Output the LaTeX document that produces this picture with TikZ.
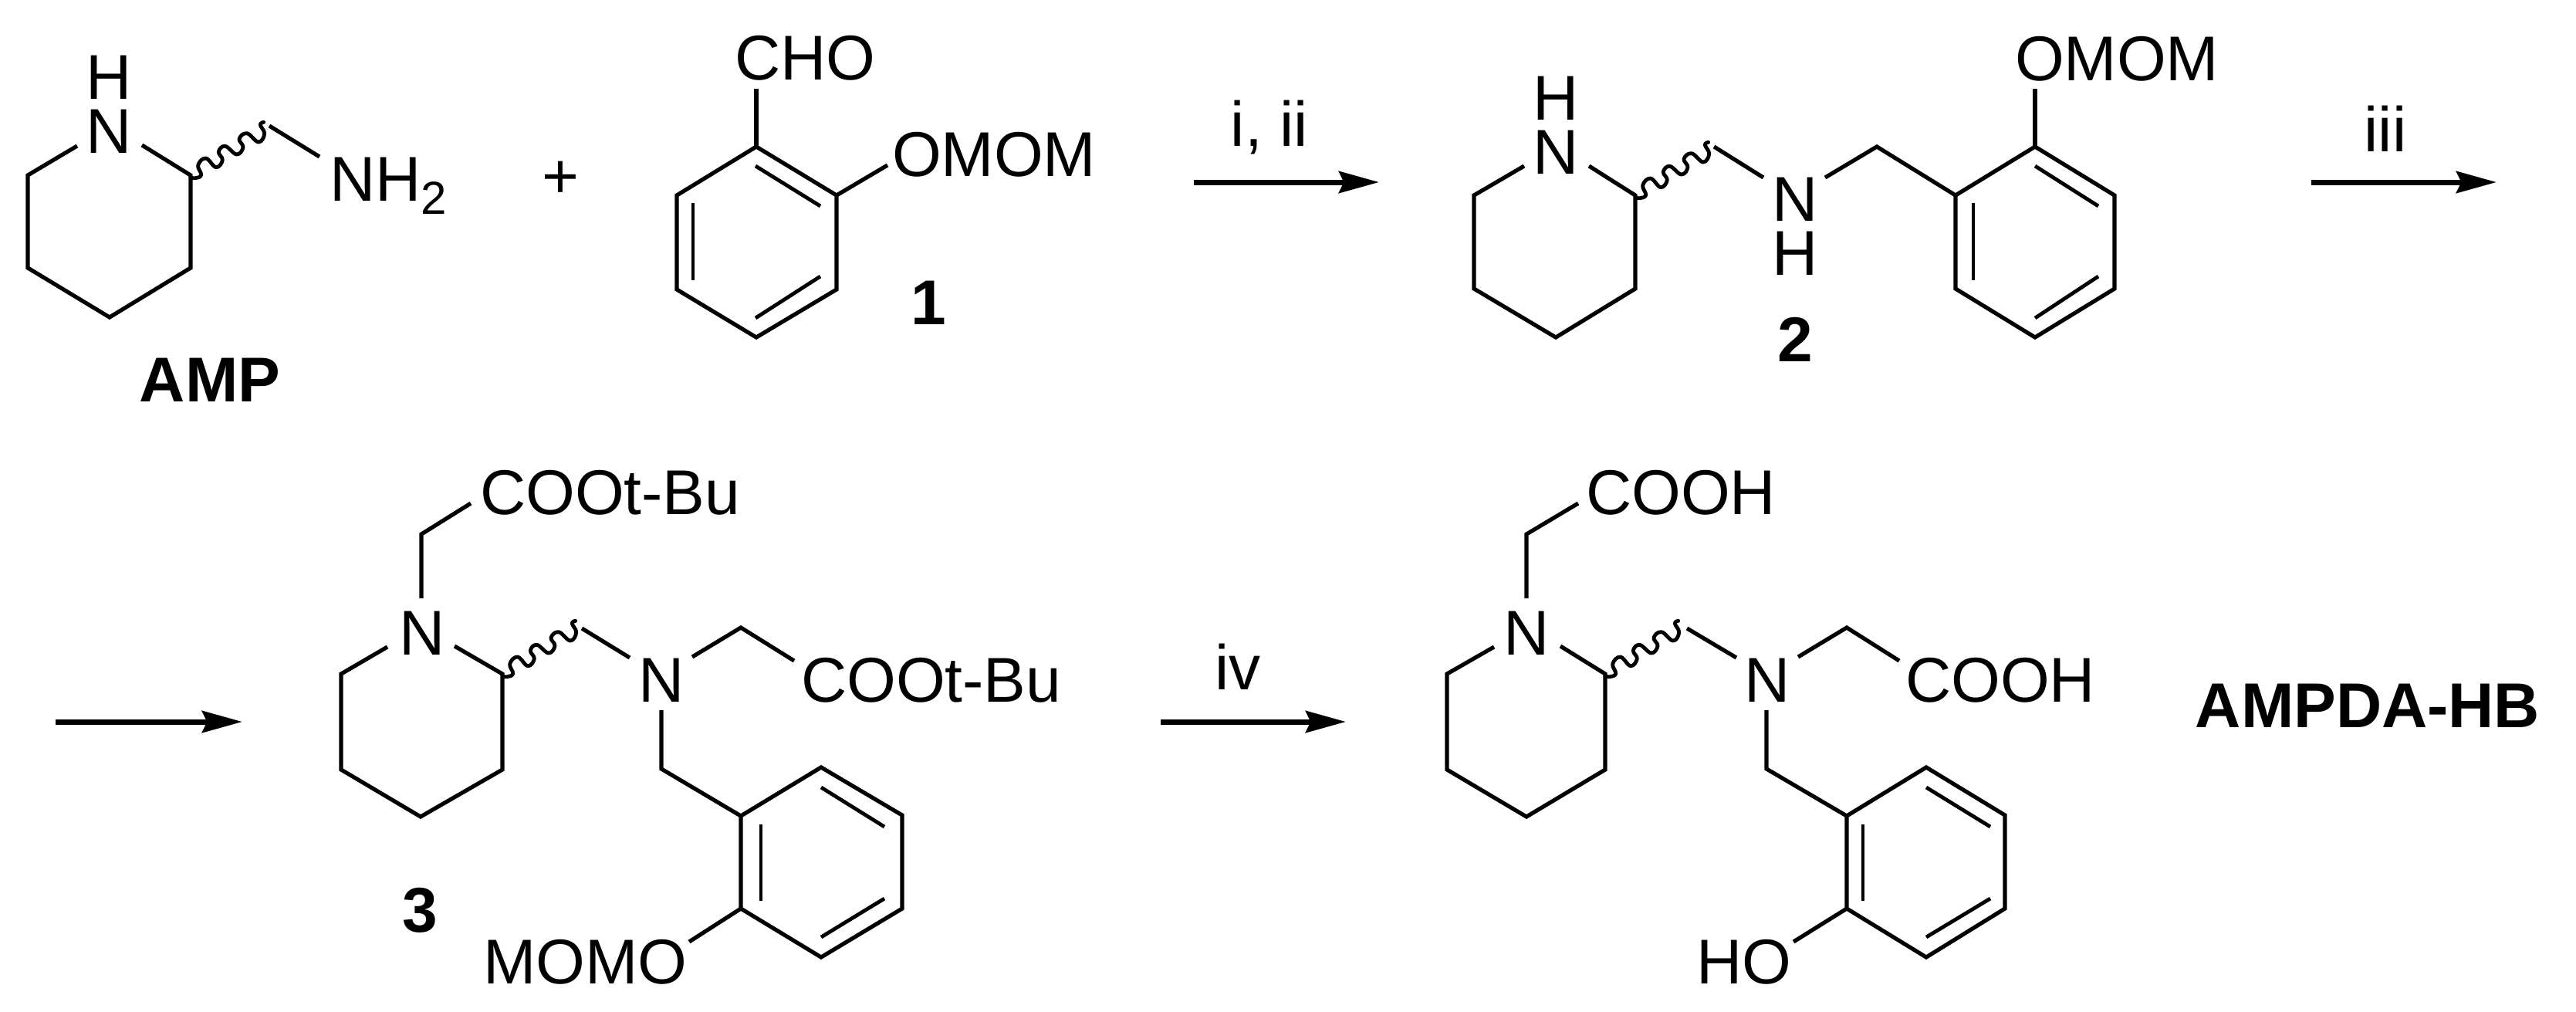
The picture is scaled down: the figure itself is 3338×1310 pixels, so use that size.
\documentclass[tikz,border=0pt]{standalone}
\usepackage{fontspec}
\setmainfont{Liberation Sans}
\usetikzlibrary{arrows.meta}
\newcommand{\wavebond}[1]{\draw[wavy,shift={(#1)}] plot[smooth,tension=0.7] coordinates {(0,3) (6,3.7) (13.7,-0.3) (9.7,-13) (19.7,-22) (33,-10.3) (41.3,-19.7) (36.3,-30.3) (44.7,-37.7) (59.7,-27) (68,-36.3) (63,-47) (73,-54.3) (88,-43) (95.7,-53.7) (90.3,-65.3) (94.7,-68.7)};}
\tikzset{
  x=0.25pt,y=-0.25pt,
  bond/.style={line width=1.3pt,line join=miter,line cap=butt},
  inbond/.style={line width=1.2pt,line cap=butt},
  wavy/.style={line width=1.2pt,line cap=round,line join=round},
  rxn/.style={line width=1.75pt,-{Stealth[length=13pt,width=7pt,inset=1.6pt]}},
  lbl/.style={inner sep=0pt,outer sep=0pt,anchor=base west,font=\fontsize{20.5pt}{24pt}\selectfont},
  ctr/.style={lbl,anchor=base},
  bld/.style={ctr,font=\fontsize{20.5pt}{24pt}\selectfont\bfseries},
}
\begin{document}
\begin{tikzpicture}
\useasboundingbox (0,0) rectangle (3338,1310);
% ---------- AMP
\node[ctr] (ampH) at (141,128) {H};
\node[ctr] (ampN) at (141,198) {N};
\node[lbl] (ampNH) at (427,260) {NH\raisebox{-4.25pt}{\fontsize{15pt}{18pt}\selectfont 2}};
\node[bld] (ampName) at (272,520) {AMP};
\node[font=\fontsize{20.5pt}{24pt}\selectfont,inner sep=0pt] (plus) at (726,233) {+};
\coordinate (a1) at (100,189); \coordinate (a2) at (36,227); \coordinate (a3) at (36,347);
\coordinate (a4) at (142,411); \coordinate (a5) at (247,347); \coordinate (a6) at (247,227);
\coordinate (a7) at (184,188); \coordinate (a9) at (349,163);
\coordinate (a10) at (414,203);
\draw[bond] (a1)--(a2)--(a3)--(a4)--(a5)--(a6)--(a7);
\wavebond{a6}
\draw[bond] (a9)--(a10);
% ---------- 1
\node[lbl] (oneCHO) at (952,103) {CHO};
\node[lbl] (oneOMOM) at (1156,228) {OMOM};
\node[bld] (oneName) at (1203,420) {1};
\coordinate (b1) at (980,190); \coordinate (b2) at (1084,253); \coordinate (b3) at (1084,375);
\coordinate (b4) at (980,437); \coordinate (b5) at (877,375); \coordinate (b6) at (877,253);
\coordinate (b7) at (980,115); \coordinate (b8) at (1150,214);
\coordinate (b9) at (898,263); \coordinate (b10) at (898,363);
\coordinate (b11) at (979,215); \coordinate (b12) at (1063,267);
\coordinate (b13) at (1063,358); \coordinate (b14) at (979,412);
\draw[bond] (b1)--(b2)--(b3)--(b4)--(b5)--(b6)--cycle;
\draw[bond] (b1)--(b7); \draw[bond] (b2)--(b8);
\draw[inbond] (b9)--(b10); \draw[inbond] (b11)--(b12); \draw[inbond] (b13)--(b14);
% ---------- arrow i, ii
\coordinate (r1s) at (1547,236); \coordinate (r1e) at (1787,236);
\draw[rxn] (r1s)--(r1e);
\node[ctr] (r1t) at (1645,189) {i, ii};
% ---------- 2
\node[ctr] (twoH1) at (2016,155) {H};
\node[ctr] (twoN1) at (2016,225) {N};
\node[ctr] (twoN2) at (2326,286) {N};
\node[ctr] (twoH2) at (2326,356) {H};
\node[lbl] (twoOMOM) at (2611,104) {OMOM};
\node[bld] (twoName) at (2326,468) {2};
\coordinate (c1) at (1975,215); \coordinate (c2) at (1910,253); \coordinate (c3) at (1910,374);
\coordinate (c4) at (2016,437); \coordinate (c5) at (2119,374); \coordinate (c6) at (2119,253);
\coordinate (c7) at (2059,215); \coordinate (c9) at (2221,190);
\coordinate (c10) at (2285,230); \coordinate (c11) at (2365,230); \coordinate (c12) at (2432,190);
\coordinate (d1) at (2637,190); \coordinate (d2) at (2740,253); \coordinate (d3) at (2740,374);
\coordinate (d4) at (2637,437); \coordinate (d5) at (2534,374); \coordinate (d6) at (2534,253);
\coordinate (d7) at (2637,115);
\coordinate (d9) at (2557,263); \coordinate (d10) at (2557,363);
\coordinate (d11) at (2637,215); \coordinate (d12) at (2719,267);
\coordinate (d13) at (2719,358); \coordinate (d14) at (2637,412);
\draw[bond] (c1)--(c2)--(c3)--(c4)--(c5)--(c6)--(c7);
\wavebond{c6}
\draw[bond] (c9)--(c10);
\draw[bond] (c11)--(c12)--(d6);
\draw[bond] (d1)--(d2)--(d3)--(d4)--(d5)--(d6)--cycle;
\draw[bond] (d1)--(d7);
\draw[inbond] (d9)--(d10); \draw[inbond] (d11)--(d12); \draw[inbond] (d13)--(d14);
% ---------- arrow iii
\coordinate (r2s) at (2995,236); \coordinate (r2e) at (3235,236);
\draw[rxn] (r2s)--(r2e);
\node[ctr] (r2t) at (3091,196) {iii};
% ---------- arrow row 2 left
\coordinate (r3s) at (72,935); \coordinate (r3e) at (314,935);
\draw[rxn] (r3s)--(r3e);
% ---------- 3
\node[ctr] (thN1) at (547,848) {N};
\node[ctr] (thN2) at (857,909) {N};
\node[lbl] (thE1) at (622,666) {COOt-Bu};
\node[lbl] (thE2) at (1038,909) {COOt-Bu};
\node[lbl] (thO) at (626,1274) {MOMO};
\node[bld] (thName) at (544,1207) {3};
\coordinate (e1) at (502,838); \coordinate (e2) at (442,873); \coordinate (e3) at (442,997);
\coordinate (e4) at (545,1058); \coordinate (e5) at (651,997); \coordinate (e6) at (651,873);
\coordinate (e7) at (589,837); \coordinate (e8) at (546,775); \coordinate (e9) at (546,692);
\coordinate (e10) at (610,652); \coordinate (e12) at (754,814);
\coordinate (e13) at (816,852); \coordinate (e14) at (897,851); \coordinate (e15) at (960,813);
\coordinate (e16) at (1029,856); \coordinate (e17) at (857,920); \coordinate (e18) at (857,996);
\coordinate (f1) at (960,1057); \coordinate (f2) at (1064,994); \coordinate (f3) at (1169,1056);
\coordinate (f4) at (1169,1177); \coordinate (f5) at (1064,1240); \coordinate (f6) at (960,1177);
\coordinate (f7) at (893,1220);
\coordinate (f8) at (1064,1020); \coordinate (f9) at (1146,1071);
\coordinate (f10) at (1146,1164); \coordinate (f11) at (1064,1214);
\coordinate (f12) at (986,1068); \coordinate (f13) at (986,1167);
\draw[bond] (e1)--(e2)--(e3)--(e4)--(e5)--(e6)--(e7);
\draw[bond] (e8)--(e9)--(e10);
\wavebond{e6}
\draw[bond] (e12)--(e13);
\draw[bond] (e14)--(e15)--(e16);
\draw[bond] (e17)--(e18)--(f1);
\draw[bond] (f1)--(f2)--(f3)--(f4)--(f5)--(f6)--cycle;
\draw[bond] (f6)--(f7);
\draw[inbond] (f8)--(f9); \draw[inbond] (f10)--(f11); \draw[inbond] (f12)--(f13);
% ---------- arrow iv
\coordinate (r4s) at (1504,935); \coordinate (r4e) at (1744,935);
\draw[rxn] (r4s)--(r4e);
\node[ctr] (r4t) at (1604,893) {iv};
% ---------- AMPDA-HB
\node[ctr] (hN1) at (1978,848) {N};
\node[ctr] (hN2) at (2290,909) {N};
\node[lbl] (hE1) at (2055,666) {COOH};
\node[lbl] (hE2) at (2469,909) {COOH};
\node[lbl] (hO) at (2198,1274) {HO};
\node[bld] (hName) at (3068,942) {AMPDA-HB};
\coordinate (g1) at (1936,838); \coordinate (g2) at (1875,873); \coordinate (g3) at (1875,997);
\coordinate (g4) at (1978,1058); \coordinate (g5) at (2080,997); \coordinate (g6) at (2080,873);
\coordinate (g7) at (2022,837); \coordinate (g8) at (1978,775); \coordinate (g9) at (1978,692);
\coordinate (g10) at (2045,652); \coordinate (g12) at (2186,814);
\coordinate (g13) at (2250,852); \coordinate (g14) at (2330,851); \coordinate (g15) at (2393,813);
\coordinate (g16) at (2461,856); \coordinate (g17) at (2289,920); \coordinate (g18) at (2289,996);
\coordinate (k1) at (2393,1057); \coordinate (k2) at (2496,994); \coordinate (k3) at (2598,1056);
\coordinate (k4) at (2598,1177); \coordinate (k5) at (2496,1240); \coordinate (k6) at (2393,1177);
\coordinate (k7) at (2324,1220);
\coordinate (k8) at (2496,1020); \coordinate (k9) at (2579,1071);
\coordinate (k10) at (2579,1164); \coordinate (k11) at (2496,1214);
\coordinate (k12) at (2414,1068); \coordinate (k13) at (2414,1167);
\draw[bond] (g1)--(g2)--(g3)--(g4)--(g5)--(g6)--(g7);
\draw[bond] (g8)--(g9)--(g10);
\wavebond{g6}
\draw[bond] (g12)--(g13);
\draw[bond] (g14)--(g15)--(g16);
\draw[bond] (g17)--(g18)--(k1);
\draw[bond] (k1)--(k2)--(k3)--(k4)--(k5)--(k6)--cycle;
\draw[bond] (k6)--(k7);
\draw[inbond] (k8)--(k9); \draw[inbond] (k10)--(k11); \draw[inbond] (k12)--(k13);
\end{tikzpicture}
\end{document}
